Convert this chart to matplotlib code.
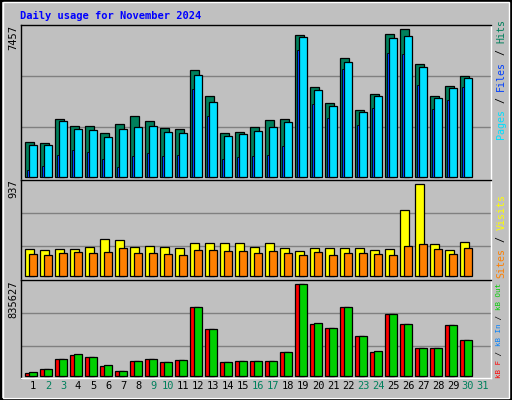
import numpy as np
import matplotlib.pyplot as plt
from matplotlib.patches import Rectangle

days = np.arange(1, 31)
labels = [str(i) for i in range(1, 32)]
weekend = [2, 3, 9, 10, 16, 17, 23, 24, 30, 31]

hits = [626, 608, 1046, 918, 918, 793, 955, 1100, 1006, 881, 863, 1931, 1457, 793,
        810, 899, 1024, 1046, 2566, 1629, 1331, 2155, 1214, 1500, 2584, 2674, 2048,
        1468, 1645, 1823]
files = [573, 573, 1006, 863, 845, 720, 863, 899, 918, 810, 793, 1842, 1348, 738,
         774, 828, 899, 989, 2530, 1575, 1277, 2084, 1170, 1472, 2512, 2548, 1995,
         1429, 1611, 1789]
pages = [130, 200, 397, 487, 451, 327, 184, 380, 434, 380, 397, 1594, 1096, 327,
         362, 380, 397, 558, 2302, 1316, 1066, 1952, 934, 1254, 2245, 2228, 1666,
         1237, 1398, 1629]
# scale so the max hits is 7457
sc = 7457 / max(hits)
hits = [h * sc for h in hits]
files = [h * sc for h in files]
pages = [h * sc for h in pages]

visits = [275, 265, 275, 275, 295, 377, 367, 295, 306, 295, 285, 336, 336, 336,
          336, 295, 336, 285, 255, 285, 285, 285, 285, 265, 275, 672, 937, 326, 265, 346]
sites = [224, 214, 234, 244, 234, 244, 285, 234, 234, 224, 214, 265, 265, 255,
         255, 234, 255, 234, 214, 244, 214, 234, 234, 224, 214, 306, 326, 275, 224, 285]

kb_out = [30, 58, 149, 194, 167, 94, 39, 130, 149, 121, 140, 625, 425, 121,
          130, 130, 130, 212, 835, 477, 431, 625, 365, 221, 562, 471, 252, 252, 461, 325]
kb_f = [22, 58, 149, 185, 167, 85, 39, 130, 149, 121, 140, 625, 425, 121,
        130, 130, 130, 212, 835, 467, 431, 625, 365, 212, 562, 471, 252, 252, 461, 325]
kb_out = [v * 1000 for v in kb_out]
kb_f = [v * 1000 for v in kb_f]
kb_out[18] = kb_f[18] = 835627

BG = '#c0c0c0'
W, H = 512, 400
fig = plt.figure(figsize=(5.12, 4.0), dpi=100, facecolor=BG)

def panel(top, bot):
    ax = fig.add_axes([20.7 / W, 1 - bot / H, 470 / W, (bot - top) / H])
    ax.set_facecolor(BG)
    ax.set_xlim(0.18, 31.51)
    ax.set_xticks([])
    ax.set_yticks([])
    for s in ax.spines.values():
        s.set_color('black')
        s.set_linewidth(1)
    ax.spines['right'].set_color('white')
    ax.spines['bottom'].set_color('white')
    return ax

def bars(ax, vals, off, w, col):
    ax.bar(days + off / 15, vals, width=w / 15, align='edge', color=col,
           edgecolor='black', linewidth=0.9, zorder=3)

# top panel
ax1 = panel(24.7, 179.7)
ax1.set_ylim(-7457 * 3 / 147.4, 7457 * 152 / 147.4)
for g in (49.7, 100.7):
    ax1.axhline(7457 * g / 147.4, color='#808080', lw=1, zorder=1)
bars(ax1, hits, -8, 9, '#00805c')
bars(ax1, files, -4, 8, '#00e0ff')
ax1.bar(days - 6 / 15, pages, width=2 / 15, align='edge', color='#0040ff',
        edgecolor='black', linewidth=0.6, zorder=4)

# middle panel
ax2 = panel(179.7, 280.3)
ax2.set_ylim(-937 * 4 / 92, 937 * 96.6 / 92)
for g in (30, 63):
    ax2.axhline(937 * g / 92, color='#808080', lw=1, zorder=1)
bars(ax2, visits, -8, 9, '#ffff00')
bars(ax2, sites, -4, 8, '#ff8000')

# bottom panel
ax3 = panel(280.3, 378)
mx = 835627
ax3.set_ylim(-mx * 2.3 / 91.7, mx * 95.4 / 91.7)
for g in (29.4, 62.4):
    ax3.axhline(mx * g / 91.7, color='#808080', lw=1, zorder=1)
bars(ax3, kb_f, -8, 9, '#ff0000')
bars(ax3, kb_out, -4, 8, '#00d000')

mono = dict(family='DejaVu Sans Mono', fontsize=7.5)
fig.text(20 / W, 1 - 16 / H, 'Daily usage for November 2024', color='#0000ff',
         fontweight='bold', va='center', ha='left', **mono)

for ax, lab in ((ax1, '7457'), (ax2, '937'), (ax3, '835627')):
    ax.text(-0.006, 1.0, lab, transform=ax.transAxes, rotation=90, ha='right',
            va='top', **mono)

for i, lab in enumerate(labels):
    col = '#00805c' if (i + 1) in weekend else 'black'
    ax3.text(i + 1, -0.03, lab, transform=ax3.get_xaxis_transform(), ha='center',
             va='top', color=col, **mono)

def legend(ax, parts, y0, fs):
    # vertical legend reading bottom-to-top, right of the panel
    cw = 0.6 * fs * 100 / 72
    hpx = ax.get_position().height * H
    y = y0
    for txt, col in parts:
        ax.text(1.012, y, txt, transform=ax.transAxes, rotation=90, ha='left',
                va='bottom', color=col, family='DejaVu Sans Mono', fontsize=fs)
        y += len(txt) * cw / hpx

legend(ax1, [('Pages', '#00e0ff'), (' / ', 'black'), ('Files', '#0040ff'),
             (' / ', 'black'), ('Hits', '#00805c')], 0.26, 7.2)
legend(ax2, [('Sites', '#ff8000'), (' / ', 'black'), ('Visits', '#ffff00')], 0.02, 7.2)
legend(ax3, [('kB F', '#ff0000'), (' / ', 'black'), ('kB In', '#0080ff'),
             (' / ', 'black'), ('kB Out', '#00d000')], 0.0, 5.4)

# outer bevel
fig.patches.append(Rectangle((0.002, 0.002), 0.996, 0.996, transform=fig.transFigure,
                             fill=False, edgecolor='black', lw=1.5))
fig.patches.append(Rectangle((0.006, 0.006), 0.988, 0.988, transform=fig.transFigure,
                             fill=False, edgecolor='white', lw=1))

fig.savefig('out.png', dpi=100, facecolor=BG)
